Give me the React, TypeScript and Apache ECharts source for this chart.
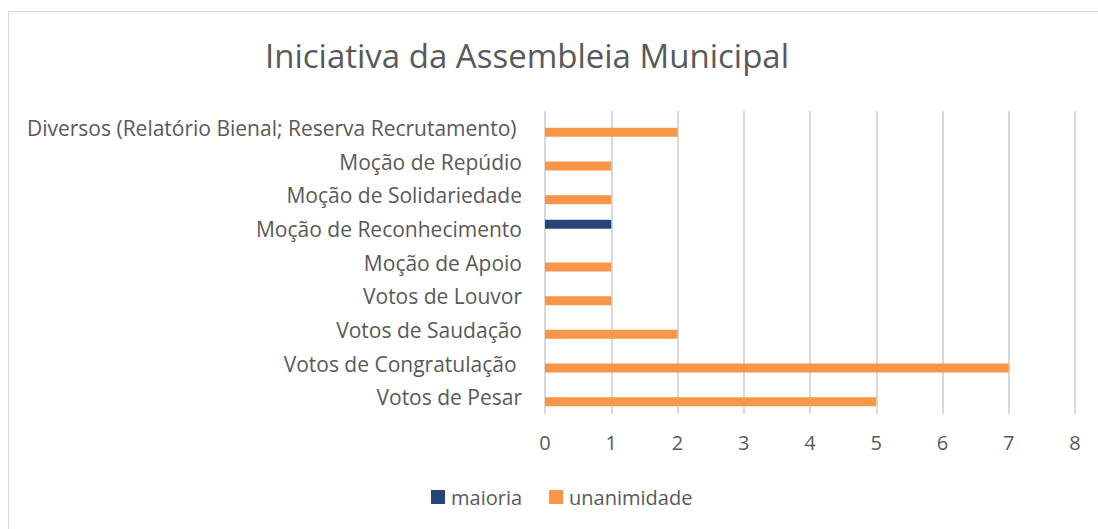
import React, { useEffect, useRef } from "react";
import * as echarts from "echarts";

const categories = [
  "Votos de Pesar",
  "Votos de Congratulação ",
  "Votos de Saudação",
  "Votos de Louvor",
  "Moção de Apoio",
  "Moção de Reconhecimento",
  "Moção de Solidariedade",
  "Moção de Repúdio",
  "Diversos (Relatório Bienal; Reserva Recrutamento) ",
];
const maioria = [null, null, null, null, null, 1, null, null, null];
const unanimidade = [5, 7, 2, 1, 1, null, 1, 1, 2];
const xTicks = { min: 0, max: 8, interval: 1 };

const FONT = "'Open Sans', 'Noto Sans', sans-serif";
const TXT = "#595959";

export default function App() {
  const ref = useRef<HTMLDivElement>(null);
  useEffect(() => {
    if (!ref.current) return;
    const chart = echarts.init(ref.current, undefined, { renderer: "svg" });
    chart.setOption({
      animation: false,
      backgroundColor: "#ffffff",
      title: {
        text: "Iniciativa da Assembleia Municipal",
        left: 522,
        top: 34,
        textAlign: "center",
        textStyle: { fontFamily: FONT, fontSize: 33, fontWeight: "normal", color: TXT },
      },
      graphic: [
        {
          type: "rect",
          shape: { x: 8.5, y: 11.5, width: 1200, height: 600 },
          style: { fill: "none", stroke: "#d9d9d9", lineWidth: 1 },
          silent: true,
        },
      ],
      legend: {
        top: 482,
        left: 426,
        itemWidth: 14,
        itemHeight: 14,
        itemGap: 27,
        icon: "rect",
        textStyle: { fontFamily: FONT, fontSize: 20, color: TXT, padding: [0, 0, 0, 1] },
        data: ["maioria", "unanimidade"],
      },
      grid: { left: 545, right: 23, top: 111, bottom: 115, containLabel: false },
      xAxis: {
        type: "value",
        min: xTicks.min,
        max: xTicks.max,
        interval: xTicks.interval,
        axisLine: { show: false },
        axisTick: { show: false },
        splitLine: { show: true, lineStyle: { color: "#d9d9d9", width: 2 } },
        axisLabel: { fontFamily: FONT, fontSize: 20, color: TXT, margin: 18 },
      },
      yAxis: {
        type: "category",
        data: categories,
        axisLine: { show: false },
        axisTick: { show: false },
        axisLabel: { fontFamily: FONT, fontSize: 21, color: TXT, margin: 23 },
      },
      series: [
        {
          name: "maioria",
          type: "bar",
          data: maioria,
          barWidth: 9,
          barGap: "0%",
          itemStyle: { color: "#264478" },
        },
        {
          name: "unanimidade",
          type: "bar",
          data: unanimidade,
          barWidth: 9,
          barGap: "0%",
          itemStyle: { color: "#F79646" },
        },
      ],
    });
    return () => chart.dispose();
  }, []);
  return (
    <div
      ref={ref}
      style={{ position: "fixed", left: 0, top: 0, width: 1098, height: 529 }}
    />
  );
}
